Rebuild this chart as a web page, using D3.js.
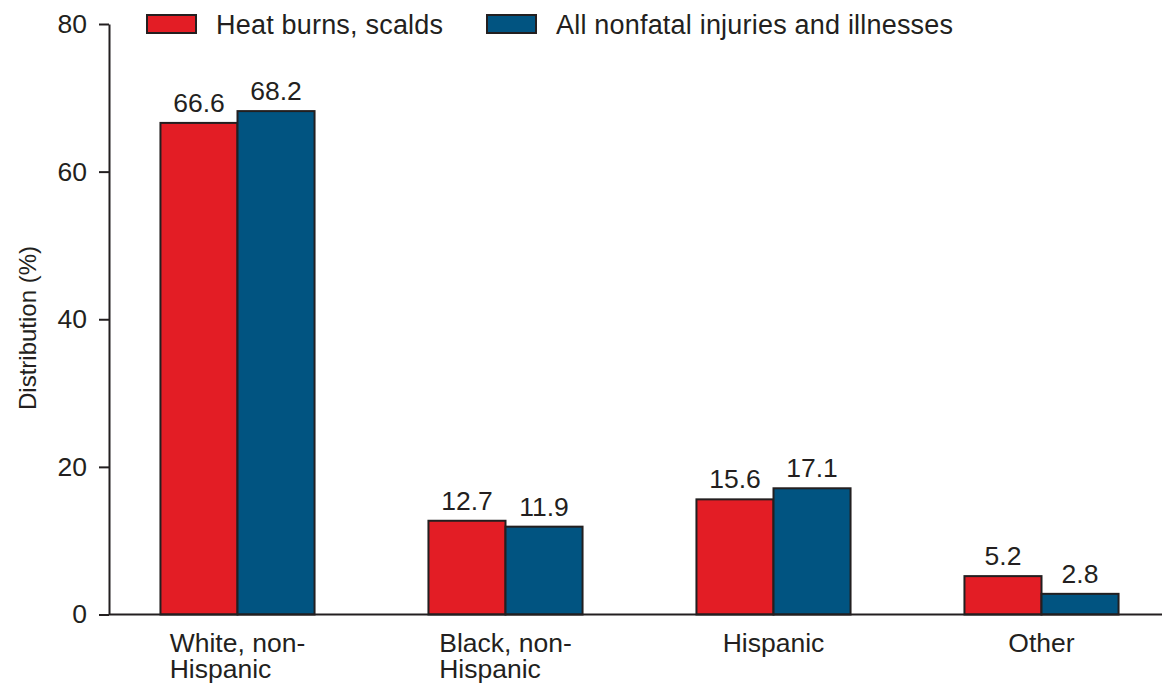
<!DOCTYPE html>
<html>
<head>
<meta charset="utf-8">
<script src="https://cdn.jsdelivr.net/npm/d3@7"></script>
<style>
  html, body { margin: 0; padding: 0; background: #fff; }
  svg { display: block; }
  text { font-family: "Liberation Sans", Arial, Helvetica, sans-serif; fill: #231f20; }
</style>
</head>
<body>
<svg id="chart" width="1162" height="684"></svg>
<script>
const categories = [["White, non-", "Hispanic"], ["Black, non-", "Hispanic"], ["Hispanic"], ["Other"]];
const seriesNames = ["Heat burns, scalds", "All nonfatal injuries and illnesses"];
const heatBurns = [66.6, 12.7, 15.6, 5.2];
const allInjuries = [68.2, 11.9, 17.1, 2.8];
const yTicks = [0, 20, 40, 60, 80];
const colors = ["#e31d25", "#015481"];

const svg = d3.select("#chart");
const ink = "#231f20";
const fs = 26.5;

const catKeys = categories.map(c => c.join(" "));
const x0 = d3.scaleBand().domain(catKeys).range([103.5, 1175.5])
  .paddingInner(0.425).paddingOuter(0.2125);
const x1 = d3.scaleBand().domain(seriesNames).range([0, x0.bandwidth()]);
const y = d3.scaleLinear().domain([0, 80]).range([614.5, 24]);

// y axis
const yAxis = d3.axisLeft(y).tickValues(yTicks).tickSize(10).tickPadding(12).tickSizeOuter(0);
const gy = svg.append("g").attr("transform", "translate(109,0)").call(yAxis);
gy.select(".domain").attr("stroke", ink).attr("stroke-width", 2);
gy.selectAll(".tick line").attr("stroke", ink).attr("stroke-width", 2);
gy.selectAll(".tick text").attr("font-size", fs).attr("fill", ink)
  .attr("font-family", "'Liberation Sans', Arial, sans-serif");

// bars
const data = catKeys.map((k, i) => ({ key: k, vals: [heatBurns[i], allInjuries[i]] }));
const groups = svg.append("g").selectAll("g").data(data).join("g")
  .attr("transform", d => `translate(${x0(d.key)},0)`);
groups.selectAll("rect").data(d => d.vals.map((v, j) => ({ v, s: seriesNames[j], j })))
  .join("rect")
  .attr("x", d => x1(d.s))
  .attr("y", d => y(d.v))
  .attr("width", x1.bandwidth())
  .attr("height", d => y(0) - y(d.v))
  .attr("fill", d => colors[d.j])
  .attr("stroke", ink).attr("stroke-width", 2);
groups.selectAll("text.val").data(d => d.vals.map((v, j) => ({ v, s: seriesNames[j], j })))
  .join("text").attr("class", "val")
  .attr("x", d => x1(d.s) + x1.bandwidth() / 2)
  .attr("y", d => y(d.v) - 11)
  .attr("text-anchor", "middle")
  .attr("font-size", fs)
  .text(d => d.v.toFixed(1));

// x baseline
svg.append("line").attr("x1", 109).attr("x2", 1162).attr("y1", y(0)).attr("y2", y(0))
  .attr("stroke", ink).attr("stroke-width", 2);

// x labels
categories.forEach((lines, i) => {
  const cx = x0(catKeys[i]) + x0.bandwidth() / 2;
  const t = svg.append("text").attr("font-size", fs).attr("y", 652);
  t.append("tspan").text(lines[0]);
  const w = t.node().getComputedTextLength();
  const left = cx - w / 2;
  t.attr("x", left);
  t.select("tspan").attr("x", left);
  for (let k = 1; k < lines.length; k++) {
    t.append("tspan").attr("x", left).attr("dy", 26).text(lines[k]);
  }
});

// y title
svg.append("text").attr("transform", "translate(36,328) rotate(-90)")
  .attr("text-anchor", "middle").attr("font-size", 24).text("Distribution (%)");

// legend
const legendX = [147, 487];
seriesNames.forEach((n, i) => {
  svg.append("rect").attr("x", legendX[i]).attr("y", 15).attr("width", 49).attr("height", 18)
    .attr("fill", colors[i]).attr("stroke", ink).attr("stroke-width", 2);
  svg.append("text").attr("x", legendX[i] + 69).attr("y", 34).attr("font-size", 27)
    .attr("letter-spacing", 0.2).text(n);
});
</script>
</body>
</html>
